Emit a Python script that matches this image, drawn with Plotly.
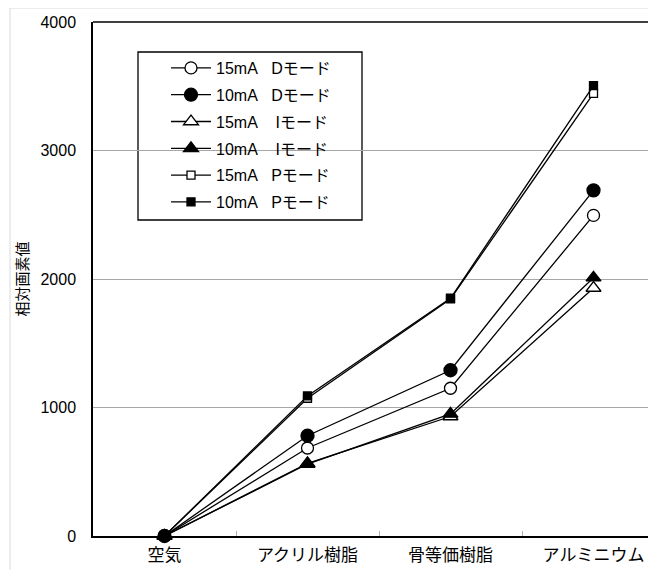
import plotly.graph_objects as go

categories = ["空気", "アクリル樹脂", "骨等価樹脂", "アルミニウム"]
tick_vals_y = [0, 1000, 2000, 3000, 4000]

d15 = [0, 685, 1150, 2495]
d10 = [0, 780, 1290, 2690]
i15 = [0, 565, 930, 1930]
i10 = [0, 560, 950, 2010]
p15 = [0, 1072, 1845, 3445]
p10 = [0, 1090, 1850, 3505]

NB = "\u00a0"
names = [
    f"15mA{NB*3}Dモード",
    f"10mA{NB*3}Dモード",
    f"15mA{NB*4}Iモード",
    f"10mA{NB*4}Iモード",
    f"15mA{NB*3}Pモード",
    f"10mA{NB*3}Pモード",
]
series = [d15, d10, i15, i10, p15, p10]
symbols = ["circle-open", "circle", "triangle-up-open", "triangle-up", "square-open", "square"]
sizes = [12, 13, 13, 13, 8, 8]

FONT = "Liberation Sans, Arial, Noto Sans CJK JP"

fig = go.Figure()
for i, (nm, ys, sym, sz) in enumerate(zip(names, series, symbols, sizes)):
    fill_open = sym.endswith("open")
    fig.add_trace(go.Scatter(
        x=categories, y=ys, name=nm, mode="lines+markers",
        legendgroup=f"g{i}",
        line=dict(color="black", width=1.3),
        marker=dict(symbol=sym.replace("-open", ""), size=sz,
                    color="white" if fill_open else "black",
                    line=dict(color="black", width=1.3)),
        cliponaxis=False,
    ))

# page has an 8px body margin; work in page coordinates and convert
OFF = 8
W, H = 656 - OFF, 570 - OFF
L, R, T, B = 93 - OFF, 0, 22 - OFF, 34
pw, ph = W - L - R, H - T - B

def px(x):  # page x -> paper
    return (x - OFF - L) / pw

def py(y):  # page y -> paper
    return 1 - (y - OFF - T) / ph

shapes = [
    # outer chart frame (light gray)
    dict(type="line", xref="paper", yref="paper", x0=px(10), x1=px(10), y0=py(8), y1=py(600),
         line=dict(color="#d9d9d9", width=1)),
    dict(type="line", xref="paper", yref="paper", x0=px(10), x1=px(700), y0=py(8), y1=py(8),
         line=dict(color="#d9d9d9", width=1)),
    # top border of plot area
    dict(type="line", xref="paper", yref="paper", x0=0, x1=px(700), y0=1, y1=1,
         line=dict(color="black", width=1.5)),
    # legend box
    dict(type="rect", xref="paper", yref="paper", x0=px(138), x1=px(362), y0=py(52), y1=py(220),
         line=dict(color="black", width=1.3), fillcolor="white", layer="between"),
]

fig.update_layout(
    width=W, height=H,
    margin=dict(l=L, r=R, t=T, b=B, pad=0, autoexpand=False),
    paper_bgcolor="white", plot_bgcolor="white",
    font=dict(family=FONT, size=16, color="black"),
    showlegend=True,
    legend=dict(x=px(166), y=py(51), xanchor="left", yanchor="top",
                bgcolor="rgba(0,0,0,0)", borderwidth=0,
                font=dict(family=FONT, size=16, color="black"),
                tracegroupgap=3, itemwidth=40),
    shapes=shapes,
    xaxis=dict(
        type="category", range=[-0.5, -0.5 + pw / 143.0],
        showline=True, linecolor="black", linewidth=2,
        tickson="boundaries", ticks="inside", ticklen=5, tickcolor="#b0b0b0", tickwidth=1,
        showgrid=False, zeroline=False, ticklabelstandoff=3,
        tickfont=dict(family=FONT, size=17, color="black"),
    ),
    yaxis=dict(
        range=[0, 4000], tickvals=tick_vals_y,
        showline=True, linecolor="black", linewidth=1.5,
        showgrid=True, gridcolor="#a6a6a6", gridwidth=1,
        zeroline=False, ticks="", ticklabelstandoff=12,
        tickfont=dict(family=FONT, size=16, color="black"),
        title=dict(text="相対画素値", font=dict(family="Noto Sans CJK JP", size=15, color="black"), standoff=8),
    ),
)

fig.write_html("out.html")
